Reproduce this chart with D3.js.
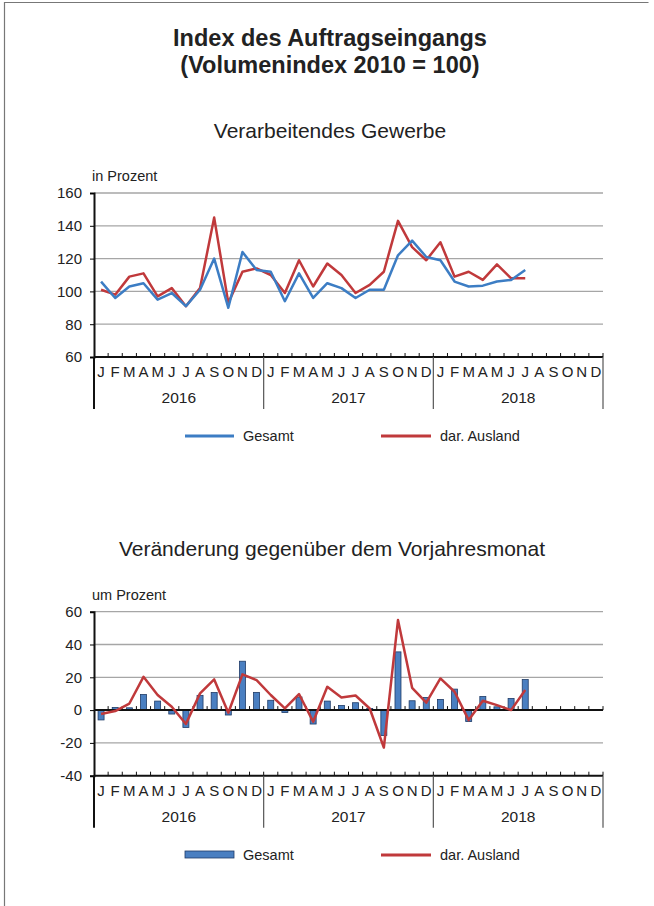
<!DOCTYPE html>
<html>
<head>
<meta charset="utf-8">
<script src="https://cdnjs.cloudflare.com/ajax/libs/d3/7.8.5/d3.min.js"></script>
<style>
  body { margin: 0; background: #fff; }
  svg { font-family: "Liberation Sans", Arial, sans-serif; }
</style>
</head>
<body>
<div id="chart"></div>
<script>
// Monatsdaten Jan 2016 bis Jul 2018
const months = ['J','F','M','A','M','J','J','A','S','O','N','D'];
const years = ['2016', '2017', '2018'];

const indexGesamt = [106, 96, 103, 105, 95, 99, 91, 101, 120, 90, 124, 113,
  112, 94, 111, 96, 105, 102, 96, 101, 101, 122, 131, 121,
  119, 106, 103, 103.5, 106, 107, 113];
const indexAusland = [101, 98, 109, 111, 97, 102, 91, 102, 145, 93, 112, 114,
  110, 99, 119, 103, 117, 110, 99, 104, 112, 143, 127, 119,
  130, 109, 112, 107, 116.5, 108, 108];

const changeGesamt = [-6, 1.6, 1.4, 9.5, 5.5, -2.4, -10.6, 9, 10.7, -3, 29.8, 10.8,
  6, -1.5, 8, -8.5, 5.5, 2.8, 4.5, 1, -15.5, 35.5, 5.7, 7.7,
  6.5, 12.8, -7, 8.3, 2, 7.1, 18.6];
const changeAusland = [-2.4, -0.6, 4, 20.3, 9.2, 2, -8.5, 10.2, 18.7, -1.6, 21.8, 18.3,
  9.2, 1, 9.8, -7.1, 14.2, 7.7, 8.9, 1, -22.8, 54.9, 13.6, 4.5,
  19.3, 11.2, -6.1, 5.7, 3, 0, 12.2];

const ticksTop = [60, 80, 100, 120, 140, 160];
const ticksBottom = [-40, -20, 0, 20, 40, 60];

const blue = '#3c7dc4';
const red = '#c0393b';
const grid = '#a6a6a6';

const W = 654, H = 906;
const svg = d3.select('#chart').append('svg')
  .attr('width', W).attr('height', H);

// Rahmen
svg.append('path')
  .attr('d', 'M4.5,906 V2.5 H648.5')
  .attr('fill', 'none').attr('stroke', '#777').attr('stroke-width', 1.2);

// Titel
svg.append('text').attr('x', 330).attr('y', 46).attr('text-anchor', 'middle')
  .attr('font-size', 23.5).attr('font-weight', 'bold').attr('fill', '#222')
  .text('Index des Auftragseingangs');
svg.append('text').attr('x', 330).attr('y', 73).attr('text-anchor', 'middle')
  .attr('font-size', 23.5).attr('font-weight', 'bold').attr('fill', '#222')
  .text('(Volumenindex 2010 = 100)');

const x0 = 94, x1 = 603;
const nMonths = 36;
const x = d3.scaleLinear().domain([0, nMonths]).range([x0, x1]);
const xc = i => x(i + 0.5);
const fmt = d => String(d); // Bindestrich statt Minuszeichen

function drawFrame(g, y, ticks, axisValue) {
  const bottom = y.range()[0];
  // Gitter
  g.selectAll('.grid').data(ticks.filter(t => t !== axisValue))
    .join('line')
    .attr('x1', x0).attr('x2', x1)
    .attr('y1', d => y(d)).attr('y2', d => y(d))
    .attr('stroke', grid).attr('stroke-width', 1.3);

  // y-Achse
  g.append('g')
    .attr('transform', `translate(${x0},0)`)
    .call(d3.axisLeft(y).tickValues(ticks).tickSize(4).tickPadding(8).tickFormat(fmt))
    .call(a => a.select('.domain').attr('stroke', '#111').attr('stroke-width', 2))
    .call(a => a.selectAll('text').attr('font-size', 15).attr('fill', '#222')
      .attr('font-family', '"Liberation Sans", Arial, sans-serif'));

  // Achse mit Monatsstrichen
  const ay = y(axisValue);
  g.append('line').attr('x1', x0).attr('x2', x1).attr('y1', ay).attr('y2', ay)
    .attr('stroke', '#111').attr('stroke-width', 2);
  g.selectAll('.mtick').data(d3.range(1, nMonths + 1))
    .join('line')
    .attr('x1', d => x(d)).attr('x2', d => x(d))
    .attr('y1', ay).attr('y2', ay - 4)
    .attr('stroke', '#111').attr('stroke-width', 1);

  // Monats- und Jahresbeschriftung
  const labels = d3.range(nMonths).map(i => months[i % 12]);
  g.selectAll('.mlab').data(labels).join('text')
    .attr('x', (d, i) => xc(i)).attr('y', bottom + 20)
    .attr('text-anchor', 'middle').attr('font-size', 15).attr('fill', '#222')
    .text(d => d);
  g.selectAll('.ylab').data(years).join('text')
    .attr('x', (d, i) => x(i * 12 + 6)).attr('y', bottom + 46)
    .attr('text-anchor', 'middle').attr('font-size', 15.5).attr('fill', '#222')
    .text(d => d);
  g.selectAll('.ysep').data(d3.range(0, nMonths + 1, 12)).join('line')
    .attr('x1', d => x(d)).attr('x2', d => x(d))
    .attr('y1', bottom).attr('y2', bottom + 52)
    .attr('stroke', (d, i) => i === 0 ? '#111' : '#555')
    .attr('stroke-width', (d, i) => i === 0 ? 2 : 1.2);
}

const lineGen = y => d3.line().x((d, i) => xc(i)).y(d => y(d));

// ---------- Oberes Diagramm ----------
const gTop = svg.append('g');
gTop.append('text').attr('x', 330).attr('y', 138).attr('text-anchor', 'middle')
  .attr('font-size', 21).attr('fill', '#222').text('Verarbeitendes Gewerbe');
gTop.append('text').attr('x', 92).attr('y', 181)
  .attr('font-size', 14.5).attr('fill', '#222').text('in Prozent');

const yTop = d3.scaleLinear().domain([60, 160]).range([357, 193]);
drawFrame(gTop, yTop, ticksTop, 60);

gTop.append('path').datum(indexAusland)
  .attr('d', lineGen(yTop)).attr('fill', 'none')
  .attr('stroke', red).attr('stroke-width', 2.5).attr('stroke-linejoin', 'round');
gTop.append('path').datum(indexGesamt)
  .attr('d', lineGen(yTop)).attr('fill', 'none')
  .attr('stroke', blue).attr('stroke-width', 2.5).attr('stroke-linejoin', 'round');

// Legende oben
gTop.append('line').attr('x1', 185).attr('x2', 234).attr('y1', 436).attr('y2', 436)
  .attr('stroke', blue).attr('stroke-width', 3);
gTop.append('text').attr('x', 243).attr('y', 441).attr('font-size', 14.5).attr('fill', '#222').text('Gesamt');
gTop.append('line').attr('x1', 381).attr('x2', 431).attr('y1', 436).attr('y2', 436)
  .attr('stroke', red).attr('stroke-width', 3);
gTop.append('text').attr('x', 440).attr('y', 441).attr('font-size', 14.5).attr('fill', '#222').text('dar. Ausland');

// ---------- Unteres Diagramm ----------
const gBot = svg.append('g');
gBot.append('text').attr('x', 332).attr('y', 556).attr('text-anchor', 'middle')
  .attr('font-size', 21).attr('fill', '#222').text('Veränderung gegenüber dem Vorjahresmonat');
gBot.append('text').attr('x', 92).attr('y', 600)
  .attr('font-size', 14.5).attr('fill', '#222').text('um Prozent');

const yBot = d3.scaleLinear().domain([-40, 60]).range([775.7, 611.7]);
drawFrame(gBot, yBot, ticksBottom, -40);

const barW = 6;
gBot.selectAll('.bar').data(changeGesamt).join('rect')
  .attr('x', (d, i) => xc(i) - barW / 2)
  .attr('y', d => yBot(Math.max(0, d)))
  .attr('width', barW)
  .attr('height', d => Math.abs(yBot(d) - yBot(0)))
  .attr('fill', '#4a7fc1').attr('stroke', '#1f3b66').attr('stroke-width', 0.8);

// Nulllinie
gBot.append('line').attr('x1', x0).attr('x2', x1).attr('y1', yBot(0)).attr('y2', yBot(0))
  .attr('stroke', '#111').attr('stroke-width', 2);
gBot.selectAll('.ztick').data(d3.range(1, nMonths + 1)).join('line')
  .attr('x1', d => x(d)).attr('x2', d => x(d))
  .attr('y1', yBot(0)).attr('y2', yBot(0) - 4)
  .attr('stroke', '#111').attr('stroke-width', 1);

gBot.append('path').datum(changeAusland)
  .attr('d', lineGen(yBot)).attr('fill', 'none')
  .attr('stroke', red).attr('stroke-width', 2.5).attr('stroke-linejoin', 'round');

// Legende unten
gBot.append('rect').attr('x', 185).attr('y', 851).attr('width', 49).attr('height', 7)
  .attr('fill', '#4a7fc1').attr('stroke', '#1f3b66').attr('stroke-width', 0.8);
gBot.append('text').attr('x', 243).attr('y', 860).attr('font-size', 14.5).attr('fill', '#222').text('Gesamt');
gBot.append('line').attr('x1', 381).attr('x2', 431).attr('y1', 855).attr('y2', 855)
  .attr('stroke', red).attr('stroke-width', 3);
gBot.append('text').attr('x', 440).attr('y', 860).attr('font-size', 14.5).attr('fill', '#222').text('dar. Ausland');
</script>
</body>
</html>
